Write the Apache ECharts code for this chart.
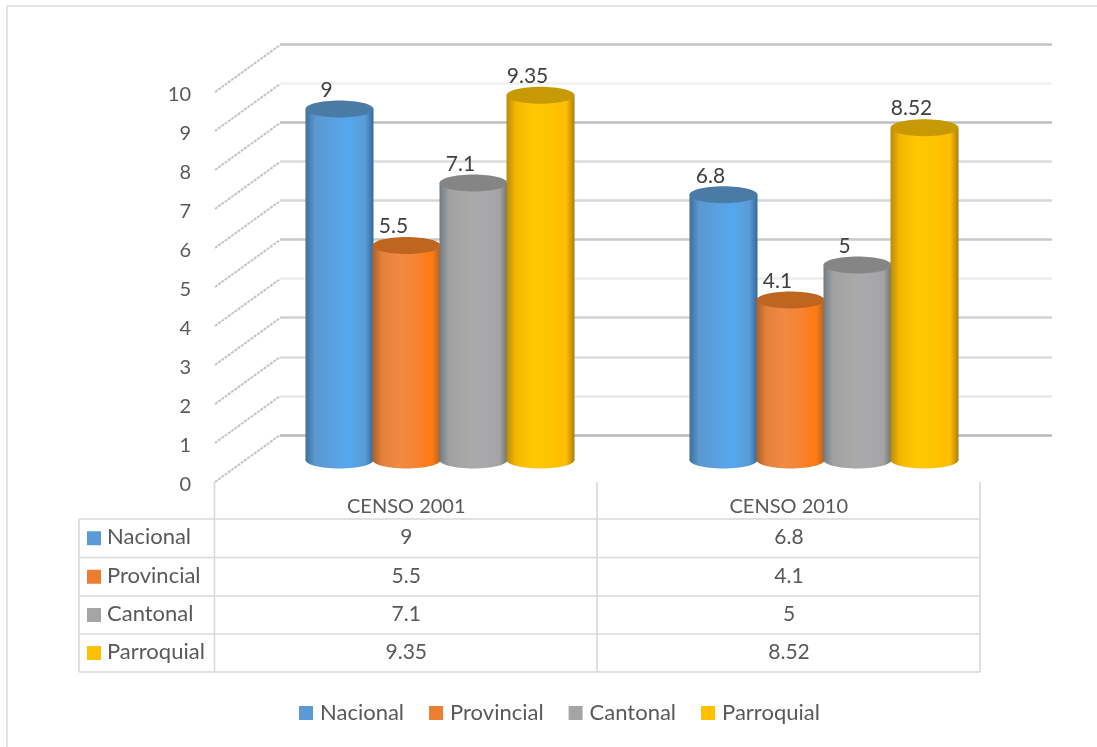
<!DOCTYPE html>
<html>
<head>
<meta charset="utf-8">
<style>html,body{margin:0;padding:0;background:#fff}#c{width:1097px;height:747px}</style>
<script src="https://cdn.jsdelivr.net/npm/echarts@6/dist/echarts.min.js"></script>
</head>
<body>
<div id="c"></div>
<script>
const categories = ['CENSO 2001', 'CENSO 2010'];
const seriesNames = ['Nacional', 'Provincial', 'Cantonal', 'Parroquial'];
const nacional = [9, 6.8];
const provincial = [5.5, 4.1];
const cantonal = [7.1, 5];
const parroquial = [9.35, 8.52];
const ticks = [0, 1, 2, 3, 4, 5, 6, 7, 8, 9, 10];

const allValues = [nacional, provincial, cantonal, parroquial];
const FONT = 'Lato';
const legendColors = ['#5b9bd5', '#ed7d31', '#a5a5a5', '#ffc000'];
const shades = [
  {top: '#4a7ba6', edge: ['#3f6f99', '#5a98d0', '#5a9fdf', '#55a8ee', '#5b9bd5', '#2f6a9c']},
  {top: '#c0651f', edge: ['#a8622c', '#e5803a', '#f08a44', '#f58434', '#ff7a10', '#a9622e']},
  {top: '#858585', edge: ['#72797e', '#a0a2a4', '#aaa8a6', '#a9a8ae', '#a5a5a5', '#6f7668']},
  {top: '#c79a05', edge: ['#b98a10', '#f5b800', '#ffc800', '#ffc400', '#ffbc00', '#a97f10']}
];
const stops = [0, 0.14, 0.4, 0.62, 0.88, 1];
const wallColors = ['#b9b9b9','#e9e9e9','#dcdcdc','#d2d2d2','#ededed','#c9c9c9','#d6d6d6','#dcdcdc','#bdbdbd','#f1f1f1','#c4c4c4'];
const gridLine = '#d9d9d9';

function cylinder(idx) {
  return function (params, api) {
    const cat = api.value(0), val = api.value(1);
    const top = api.coord([cat, val]);
    const base = api.coord([cat, 0]);
    const band = api.size([1, 0])[0];
    const step = band * 0.1745;
    const cx = top[0] + (idx - 1.5) * step;
    const rx = 34, ry = 8.5;
    const s = shades[idx];
    const grad = new echarts.graphic.LinearGradient(0, 0, 1, 0,
      stops.map((o, k) => ({offset: o, color: s.edge[k]})));
    return {
      type: 'group',
      children: [
        {type: 'ellipse', shape: {cx: cx, cy: base[1], rx: rx, ry: ry}, style: {fill: grad}},
        {type: 'rect', shape: {x: cx - rx, y: top[1], width: rx * 2, height: base[1] - top[1]}, style: {fill: grad}},
        {type: 'ellipse', shape: {cx: cx, cy: top[1], rx: rx, ry: ry}, style: {fill: s.top}},
        {type: 'text', style: {
          x: cx - 13, y: top[1] - 19, text: String(val),
          fill: '#404040', font: '21px ' + FONT, align: 'center', verticalAlign: 'middle'
        }}
      ]
    };
  };
}

// oblique side-wall lines, one per axis tick
function sideWall(params, api) {
  const p = api.coord([0, api.value(0)]);
  const left = params.coordSys.x;
  return {
    type: 'line',
    shape: {x1: left, y1: p[1], x2: left + 65, y2: p[1] - 47},
    style: {stroke: '#c4c4c4', lineWidth: 2, lineDash: [3, 1]}
  };
}

// data table under the plot
const tableRows = [519, 557.5, 596, 634, 672];
const tableCols = [214.5, 597, 980];
const tableLeft = 79;
const graphics = [];
function gLine(x1, y1, x2, y2, w) {
  graphics.push({type: 'line', silent: true, shape: {x1, y1, x2, y2},
    style: {stroke: gridLine, lineWidth: w || 1.6}});
}
gLine(7, 6, 1097, 6, 1.4);
gLine(7, 6, 7, 747, 1.4);
tableRows.forEach(y => gLine(tableLeft, y, tableCols[2], y));
tableCols.forEach(x => gLine(x, 482, x, tableRows[4]));
gLine(tableLeft, tableRows[0], tableLeft, tableRows[4]);
seriesNames.forEach((name, r) => {
  const cy = (tableRows[r] + tableRows[r + 1]) / 2;
  graphics.push({type: 'rect', silent: true, shape: {x: 87, y: cy - 7, width: 14, height: 14},
    style: {fill: legendColors[r]}});
  graphics.push({type: 'text', silent: true, x: 107, y: cy - 1,
    style: {text: name, fill: '#595959', font: '22px ' + FONT, verticalAlign: 'middle'}});
  allValues[r].forEach((v, c) => {
    graphics.push({type: 'text', silent: true, x: (tableCols[c] + tableCols[c + 1]) / 2 + 0.5, y: cy - 1,
      style: {text: String(v), fill: '#595959', font: '21px ' + FONT, align: 'center', verticalAlign: 'middle'}});
  });
});

const option = {
  animation: false,
  backgroundColor: '#fff',
  textStyle: {fontFamily: FONT},
  legend: {
    data: seriesNames, left: 294, top: 697, itemGap: 25, itemWidth: 14, itemHeight: 14, icon: 'rect',
    textStyle: {fontSize: 22, color: '#595959', fontFamily: FONT, padding: [0, 0, 0, 2]}
  },
  graphic: graphics,
  grid: [
    {left: 215, right: 117, top: 94.5, bottom: 262.5},
    {left: 280, right: 45, top: 44, bottom: 312},
    {left: 248, right: 81, top: 70, bottom: 287},
    {left: 215, right: 117, top: 92, bottom: 265}
  ],
  xAxis: [
    {gridIndex: 0, type: 'category', data: categories, axisLine: {show: false}, axisTick: {show: false},
      axisLabel: {fontSize: 20, color: '#595959', margin: 12.5, fontFamily: FONT}},
    {gridIndex: 1, type: 'category', data: categories, show: false},
    {gridIndex: 2, type: 'category', data: categories, show: false},
    {gridIndex: 3, type: 'category', data: categories, show: false}
  ],
  yAxis: [
    {gridIndex: 0, type: 'value', min: 0, max: 10, interval: 1, splitLine: {show: false},
      axisLine: {show: false}, axisTick: {show: false},
      axisLabel: {fontSize: 20, color: '#595959', margin: 24, fontFamily: FONT}},
    {gridIndex: 1, type: 'value', min: 0, max: 10, interval: 1,
      axisLine: {show: false}, axisTick: {show: false}, axisLabel: {show: false},
      splitLine: {show: true, showMinLine: true, showMaxLine: true, lineStyle: {color: wallColors, width: 2.5}}},
    {gridIndex: 2, type: 'value', min: 0, max: 10, interval: 1, show: false, splitLine: {show: false}},
    {gridIndex: 3, type: 'value', min: 0, max: 10, interval: 1, show: false, splitLine: {show: false}}
  ],
  series: [
    {name: 'ticks', type: 'custom', xAxisIndex: 3, yAxisIndex: 3, silent: true,
      data: ticks.map(t => [t]), encode: {y: 0}, renderItem: sideWall, clip: false}
  ].concat(seriesNames.map((name, i) => ({
    name: name, type: 'custom', xAxisIndex: 2, yAxisIndex: 2, clip: false,
    itemStyle: {color: legendColors[i]},
    data: allValues[i].map((v, c) => [c, v]),
    encode: {x: 0, y: 1},
    renderItem: cylinder(i)
  })))
};
echarts.init(document.getElementById('c')).setOption(option);
</script>
</body>
</html>
